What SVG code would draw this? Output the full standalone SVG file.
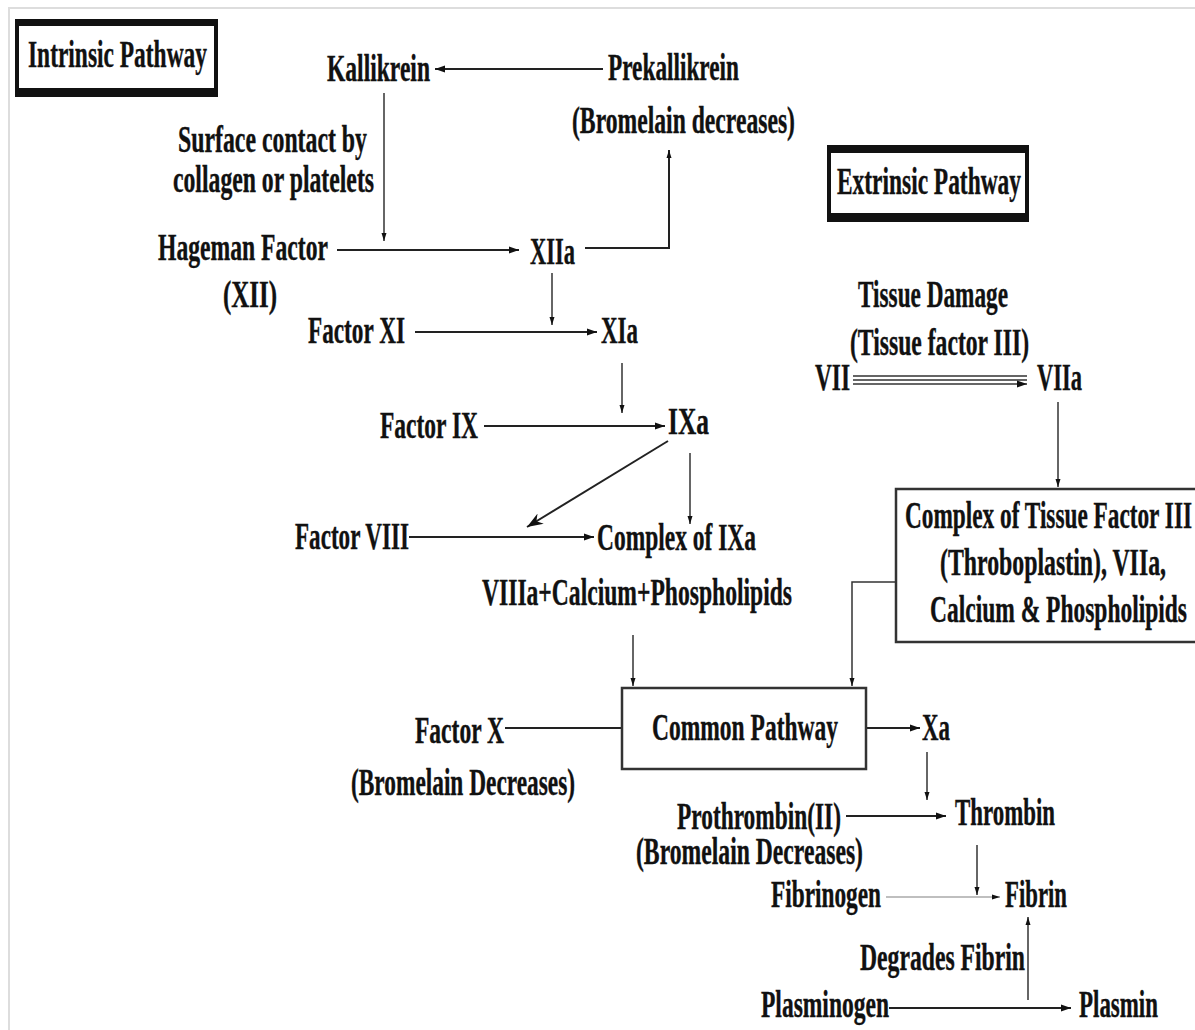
<svg xmlns="http://www.w3.org/2000/svg" width="1195" height="1030" viewBox="0 0 1195 1030">
<style>
.t{font-family:"Liberation Serif","Times New Roman",serif;font-weight:bold;font-size:37px;fill:#111;stroke:#111;stroke-width:0.4}
.c{fill:none;stroke:#222;stroke-width:2}
.thin{fill:none;stroke:#333;stroke-width:1.5}
.box{fill:#fff;stroke:#333;stroke-width:2.5}
</style>
<defs>
<marker id="ah" markerUnits="userSpaceOnUse" markerWidth="10" markerHeight="8" refX="10" refY="4" orient="auto"><path d="M0,0.5 L10,4 L0,7.5 z" fill="#111"/></marker>
<marker id="ahs" markerUnits="userSpaceOnUse" markerWidth="8" markerHeight="6" refX="8" refY="3" orient="auto"><path d="M0,0.5 L8,3 L0,5.5 z" fill="#111"/></marker>
<marker id="ahb" markerUnits="userSpaceOnUse" markerWidth="16" markerHeight="12" refX="16" refY="6" orient="auto"><path d="M0,0 L16,6 L0,12 L5,6 z" fill="#111"/></marker>
</defs>
<rect width="1195" height="1030" fill="#fff"/>
<path d="M9,1030 L9,8 L1195,8" fill="none" stroke="#ddd" stroke-width="2"/>

<g id="connectors">
<path class="c" d="M603,69 L435,69" marker-end="url(#ah)"/>
<path class="thin" d="M384,93 L384,241" marker-end="url(#ahs)"/>
<path class="c" d="M337,250 L519,250" marker-end="url(#ah)"/>
<path class="c" d="M585,248 L669,248 L669,150" marker-end="url(#ahs)"/>
<path class="thin" d="M552,273 L552,325" marker-end="url(#ahs)"/>
<path class="c" d="M415,332 L597,332" marker-end="url(#ah)"/>
<path class="thin" d="M622,363 L622,413" marker-end="url(#ahs)"/>
<path class="c" d="M484,426 L665,426" marker-end="url(#ah)"/>
<path class="c" d="M668,441 L527,527" marker-end="url(#ahb)"/>
<path class="thin" d="M690,453 L690,524" marker-end="url(#ahs)"/>
<path class="c" d="M409,537 L594,537" marker-end="url(#ah)"/>
<path class="thin" d="M633,635 L633,686" marker-end="url(#ahs)"/>
<path class="thin" d="M853,376 L1027,376 M853,380 L1027,380"/>
<path class="thin" d="M853,384 L1027,384" marker-end="url(#ah)"/>
<path class="thin" d="M1058,402 L1058,487" marker-end="url(#ahs)"/>
<path class="thin" d="M896,582 L852,582 L852,686" marker-end="url(#ahs)"/>
<path class="c" d="M505,728 L622,728"/>
<path class="c" d="M866,728 L920,728" marker-end="url(#ah)"/>
<path class="thin" d="M927,752 L927,800" marker-end="url(#ahs)"/>
<path class="c" d="M846,816 L946,816" marker-end="url(#ah)"/>
<path class="thin" d="M977,845 L977,895" marker-end="url(#ahs)"/>
<path d="M886,897 L1000,897" fill="none" stroke="#aaa" stroke-width="1.5" marker-end="url(#ahs)"/>
<path class="thin" d="M1028,1000 L1028,917" marker-end="url(#ahs)"/>
<path class="c" d="M889,1008 L1071,1008" marker-end="url(#ah)"/>
</g>

<g id="intrinsic">
<rect x="15" y="19" width="203" height="78" fill="#111"/>
<rect x="19" y="26" width="195" height="62" fill="#fff"/>
<text class="t" x="28" y="67" textLength="179" lengthAdjust="spacingAndGlyphs">Intrinsic Pathway</text>
</g>
<g id="extrinsic">
<rect x="827" y="145" width="202" height="77" fill="#111"/>
<rect x="831" y="153" width="194" height="60" fill="#fff"/>
<text class="t" x="837" y="194" textLength="184" lengthAdjust="spacingAndGlyphs">Extrinsic Pathway</text>
</g>
<g id="kallikrein"><text class="t" x="327" y="81" textLength="103" lengthAdjust="spacingAndGlyphs">Kallikrein</text></g>
<g id="prekallikrein">
<text class="t" x="608" y="80" textLength="131" lengthAdjust="spacingAndGlyphs">Prekallikrein</text>
<text class="t" x="572" y="133" textLength="223" lengthAdjust="spacingAndGlyphs">(Bromelain decreases)</text>
</g>
<g id="surface">
<text class="t" x="178" y="152" textLength="189" lengthAdjust="spacingAndGlyphs">Surface contact by</text>
<text class="t" x="173" y="192" textLength="201" lengthAdjust="spacingAndGlyphs">collagen or platelets</text>
</g>
<g id="hageman">
<text class="t" x="158" y="260" textLength="170" lengthAdjust="spacingAndGlyphs">Hageman Factor</text>
<text class="t" x="223" y="307" textLength="54" lengthAdjust="spacingAndGlyphs">(XII)</text>
</g>
<g id="xiia"><text class="t" x="530" y="264" textLength="45" lengthAdjust="spacingAndGlyphs">XIIa</text></g>
<g id="factorxi"><text class="t" x="308" y="343" textLength="97" lengthAdjust="spacingAndGlyphs">Factor XI</text></g>
<g id="xia"><text class="t" x="601" y="343" textLength="37" lengthAdjust="spacingAndGlyphs">XIa</text></g>
<g id="factorix"><text class="t" x="380" y="438" textLength="98" lengthAdjust="spacingAndGlyphs">Factor IX</text></g>
<g id="ixa"><text class="t" x="668" y="434" textLength="41" lengthAdjust="spacingAndGlyphs">IXa</text></g>
<g id="factorviii"><text class="t" x="295" y="549" textLength="114" lengthAdjust="spacingAndGlyphs">Factor VIII</text></g>
<g id="complexixa">
<text class="t" x="597" y="550" textLength="159" lengthAdjust="spacingAndGlyphs">Complex of IXa</text>
<text class="t" x="482" y="605" textLength="310" lengthAdjust="spacingAndGlyphs">VIIIa+Calcium+Phospholipids</text>
</g>
<g id="tissue">
<text class="t" x="858" y="307" textLength="150" lengthAdjust="spacingAndGlyphs">Tissue Damage</text>
<text class="t" x="850" y="355" textLength="179" lengthAdjust="spacingAndGlyphs">(Tissue factor III)</text>
</g>
<g id="vii"><text class="t" x="815" y="390" textLength="35" lengthAdjust="spacingAndGlyphs">VII</text></g>
<g id="viia"><text class="t" x="1037" y="390" textLength="45" lengthAdjust="spacingAndGlyphs">VIIa</text></g>
<g id="complextf">
<path d="M1195,489 L896,489 L896,642 L1195,642" fill="#fff" stroke="#333" stroke-width="2.5"/>
<text class="t" x="905" y="528" textLength="287" lengthAdjust="spacingAndGlyphs">Complex of Tissue Factor III</text>
<text class="t" x="940" y="575" textLength="226" lengthAdjust="spacingAndGlyphs">(Throboplastin), VIIa,</text>
<text class="t" x="930" y="622" textLength="257" lengthAdjust="spacingAndGlyphs">Calcium &amp; Phospholipids</text>
</g>
<g id="common">
<rect class="box" x="622" y="688" width="244" height="81"/>
<text class="t" x="652" y="740" textLength="186" lengthAdjust="spacingAndGlyphs">Common Pathway</text>
</g>
<g id="factorx">
<text class="t" x="415" y="743" textLength="89" lengthAdjust="spacingAndGlyphs">Factor X</text>
<text class="t" x="351" y="795" textLength="224" lengthAdjust="spacingAndGlyphs">(Bromelain Decreases)</text>
</g>
<g id="xa"><text class="t" x="922" y="740" textLength="28" lengthAdjust="spacingAndGlyphs">Xa</text></g>
<g id="prothrombin">
<text class="t" x="677" y="829" textLength="164" lengthAdjust="spacingAndGlyphs">Prothrombin(II)</text>
<text class="t" x="636" y="864" textLength="227" lengthAdjust="spacingAndGlyphs">(Bromelain Decreases)</text>
</g>
<g id="thrombin"><text class="t" x="955" y="825" textLength="100" lengthAdjust="spacingAndGlyphs">Thrombin</text></g>
<g id="fibrinogen"><text class="t" x="771" y="907" textLength="110" lengthAdjust="spacingAndGlyphs">Fibrinogen</text></g>
<g id="fibrin"><text class="t" x="1005" y="907" textLength="62" lengthAdjust="spacingAndGlyphs">Fibrin</text></g>
<g id="degrades"><text class="t" x="860" y="970" textLength="165" lengthAdjust="spacingAndGlyphs">Degrades Fibrin</text></g>
<g id="plasminogen"><text class="t" x="761" y="1017" textLength="128" lengthAdjust="spacingAndGlyphs">Plasminogen</text></g>
<g id="plasmin"><text class="t" x="1079" y="1017" textLength="79" lengthAdjust="spacingAndGlyphs">Plasmin</text></g>
</svg>
